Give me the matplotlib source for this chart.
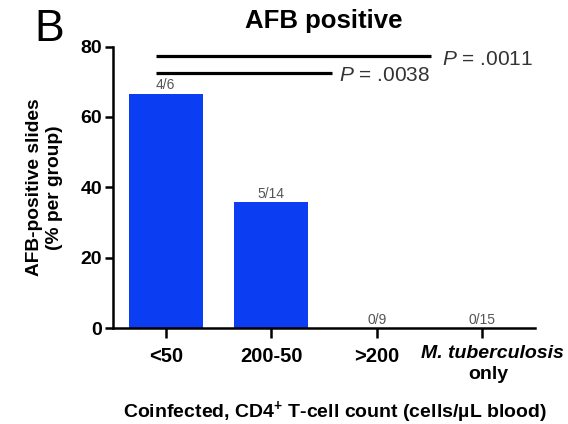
import matplotlib
matplotlib.use("Agg")
import matplotlib.pyplot as plt
import numpy as np

plt.rcParams['font.family'] = ['Liberation Sans', 'DejaVu Sans']
plt.rcParams['mathtext.fontset'] = 'custom'
plt.rcParams['mathtext.rm'] = 'Liberation Sans'
plt.rcParams['mathtext.it'] = 'Liberation Sans:italic'
plt.rcParams['mathtext.bf'] = 'Liberation Sans:bold'

# ---- data ----
categories = ['<50', '200-50', '>200', 'M. tuberculosis']
positives = [4, 5, 0, 0]
totals = [6, 14, 9, 15]
percent = [100.0 * p / t for p, t in zip(positives, totals)]
count_labels = [f"{p}/{t}" for p, t in zip(positives, totals)]
p_values = ['.0011', '.0038']
sig_levels = [77.4, 72.6]
yticks = [0, 20, 40, 60, 80]

# ---- style / layout ----
bar_color = '#0B3DF2'
sig_spans = [(-0.09, 2.51), (-0.09, 1.58)]
p_text_x = [2.62, 1.64]
p_text_dy = [-1.0, -0.7]

fig = plt.figure(figsize=(5.68, 4.24), dpi=100)
ax = fig.add_axes([0.199, 0.2264, 0.743, 0.6636])

x = np.arange(len(categories))
ax.bar(x, percent, width=0.70, color=bar_color, zorder=2)

for xi, v, lab in zip(x, percent, count_labels):
    ax.text(xi, v + 0.4, lab, ha='center', va='bottom', fontsize=10, color='#555555')

for (x0, x1), yv, pv, tx, dy in zip(sig_spans, sig_levels, p_values, p_text_x, p_text_dy):
    ax.plot([x0, x1], [yv, yv], color='black', lw=2.3, solid_capstyle='butt', clip_on=False)
    ax.text(tx, yv + dy, f"$\\mathit{{P}}$ = {pv}", ha='left', va='center', fontsize=15, color='#333333')

ax.set_xlim(-0.5, 3.5)
ax.set_ylim(0, 80)
ax.set_yticks(yticks)
ax.set_yticklabels([str(t) for t in yticks], fontsize=14, fontweight='bold')
ax.set_xticks(x)
ax.set_xticklabels(categories[:3] + [''], fontsize=14.5, fontweight='bold')

trans = ax.get_xaxis_transform()
ax.text(x[3] + 0.1, -0.089, categories[3], transform=trans, ha='center', va='center',
        fontsize=14, fontweight='bold', fontstyle='italic')
ax.text(x[3] + 0.06, -0.167, 'only', transform=trans, ha='center', va='center',
        fontsize=14, fontweight='bold')

for s in ['top', 'right']:
    ax.spines[s].set_visible(False)
for s in ['left', 'bottom']:
    ax.spines[s].set_linewidth(1.8)
ax.tick_params(axis='y', length=6, width=1.8, pad=2)
ax.tick_params(axis='x', length=7, width=1.8, pad=7)

ax.set_ylabel('AFB-positive slides\n(% per group)', fontsize=13.8, fontweight='bold', linespacing=1.2)
ax.yaxis.set_label_coords(-0.163, 0.5)
ax.yaxis.label.set_va('center')

ax.set_xlabel('Coinfected, CD4$^{\\mathbf{+}}$ T-cell count (cells/µL blood)', fontsize=14, fontweight='bold')
ax.xaxis.set_label_coords(0.526, -0.299)
ax.xaxis.label.set_va('center')

ax.set_title('AFB positive', fontsize=18.5, fontweight='bold', pad=0, y=1.068, va='baseline')

fig.text(0.086, 0.93, 'B', fontsize=32, ha='center', va='center')

fig.savefig('out.png', dpi=100)
